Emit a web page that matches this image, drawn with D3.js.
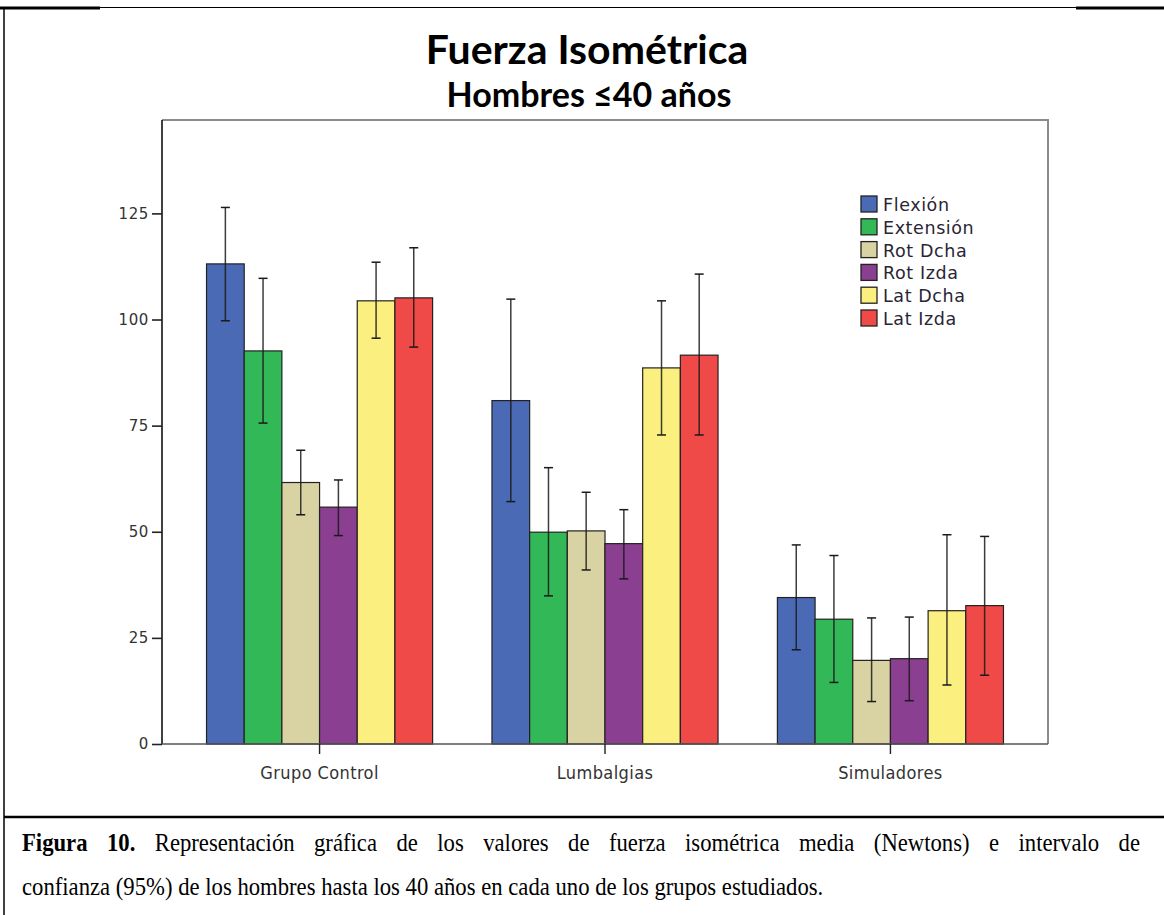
<!DOCTYPE html>
<html lang="es">
<head>
<meta charset="utf-8">
<title>Fuerza Isométrica – Hombres ≤40 años</title>
<script src="https://cdn.jsdelivr.net/npm/d3@7/dist/d3.min.js"></script>
<style>
  html, body { margin: 0; padding: 0; background: #fff; }
  svg { display: block; }
</style>
</head>
<body>
<svg id="chart" width="1164" height="915"></svg>
<script>
// Groups on the x axis and the six strength measures drawn inside each group
const groups = ["Grupo Control", "Lumbalgias", "Simuladores"];
const measures = ["Flexión", "Extensión", "Rot Dcha", "Rot Izda", "Lat Dcha", "Lat Izda"];

// Mean isometric force (N) per measure, one value per group
const flexion   = [113.1, 80.9, 34.5];
const extension = [92.6, 49.9, 29.4];
const rotDcha   = [61.6, 50.2, 19.7];
const rotIzda   = [55.8, 47.2, 20.1];
const latDcha   = [104.4, 88.6, 31.4];
const latIzda   = [105.1, 91.6, 32.6];

// 95% confidence interval limits, same order
const flexionLo   = [99.7, 57.1, 22.2];
const flexionHi   = [126.4, 104.8, 46.9];
const extensionLo = [75.6, 34.9, 14.5];
const extensionHi = [109.7, 65.1, 44.4];
const rotDchaLo   = [54.0, 41.0, 10.0];
const rotDchaHi   = [69.2, 59.3, 29.7];
const rotIzdaLo   = [49.1, 38.9, 10.2];
const rotIzdaHi   = [62.2, 55.2, 29.9];
const latDchaLo   = [95.6, 72.8, 13.9];
const latDchaHi   = [113.5, 104.4, 49.3];
const latIzdaLo   = [93.5, 72.8, 16.2];
const latIzdaHi   = [116.9, 110.7, 48.9];

const yTicks = [0, 25, 50, 75, 100, 125];
const yMax = 147;

const colors = ["#4a6ab6", "#33b858", "#d9d3a3", "#8a3f90", "#fbf07f", "#ef4a48"];

const means = [flexion, extension, rotDcha, rotIzda, latDcha, latIzda];
const lows  = [flexionLo, extensionLo, rotDchaLo, rotIzdaLo, latDchaLo, latIzdaLo];
const highs = [flexionHi, extensionHi, rotDchaHi, rotIzdaHi, latDchaHi, latIzdaHi];

const rows = [];
groups.forEach((g, gi) => {
  measures.forEach((m, mi) => {
    rows.push({ group: g, measure: m, mean: means[mi][gi], lo: lows[mi][gi], hi: highs[mi][gi], color: colors[mi] });
  });
});

const svg = d3.select("#chart");
const plot = { left: 162, right: 1048, top: 120, bottom: 744 };

const y = d3.scaleLinear().domain([0, yMax]).range([plot.bottom, plot.top]);
const x0 = d3.scaleBand().domain(groups).range([plot.left, plot.right])
  .paddingInner(0.208).paddingOuter(0.156);
const x1 = d3.scaleBand().domain(measures).range([0, x0.bandwidth()]).padding(0);

// Page frame: outer rule, left border and caption separator
const frame = svg.append("g");
frame.append("line").attr("x1", 100).attr("x2", 1076).attr("y1", 7.5).attr("y2", 7.5)
  .attr("stroke", "#000").attr("stroke-width", 1);
frame.append("line").attr("x1", 0).attr("x2", 100).attr("y1", 8).attr("y2", 8)
  .attr("stroke", "#000").attr("stroke-width", 3);
frame.append("line").attr("x1", 1076).attr("x2", 1164).attr("y1", 8).attr("y2", 8)
  .attr("stroke", "#000").attr("stroke-width", 3);
frame.append("line").attr("x1", 4).attr("x2", 4).attr("y1", 7).attr("y2", 915)
  .attr("stroke", "#000").attr("stroke-width", 1.5);
frame.append("line").attr("x1", 4).attr("x2", 1164).attr("y1", 817).attr("y2", 817)
  .attr("stroke", "#000").attr("stroke-width", 2.5);

// Titles
svg.append("text").attr("x", 587).attr("y", 64).attr("text-anchor", "middle")
  .attr("font-family", "Lato, 'Open Sans', sans-serif").attr("font-weight", 700)
  .attr("font-size", 41).attr("fill", "#000").text("Fuerza Isométrica");
svg.append("text").attr("x", 589).attr("y", 107).attr("text-anchor", "middle")
  .attr("font-family", "Lato, 'Open Sans', sans-serif").attr("font-weight", 700)
  .attr("font-size", 34).attr("fill", "#000").text("Hombres ≤40 años");

// Plot frame (grey) on top and right
svg.append("path")
  .attr("d", `M${plot.left},${plot.top}H${plot.right}V${plot.bottom}`)
  .attr("fill", "none").attr("stroke", "#8c8c8c").attr("stroke-width", 2);

// Bars
const barG = svg.append("g");
barG.selectAll("rect").data(rows).join("rect")
  .attr("x", d => x0(d.group) + x1(d.measure))
  .attr("y", d => y(d.mean))
  .attr("width", x1.bandwidth())
  .attr("height", d => y(0) - y(d.mean))
  .attr("fill", d => d.color)
  .attr("stroke", "#222").attr("stroke-width", 1.2);

// Confidence interval whiskers
const capHalf = 4.5;
const errG = svg.append("g").attr("stroke", "#1a1a1a").attr("stroke-width", 1.5);
rows.forEach(d => {
  const cx = x0(d.group) + x1(d.measure) + x1.bandwidth() / 2;
  errG.append("line").attr("x1", cx).attr("x2", cx).attr("y1", y(d.hi)).attr("y2", y(d.lo)).attr("stroke-opacity", 0.85);
  errG.append("line").attr("x1", cx - capHalf).attr("x2", cx + capHalf).attr("y1", y(d.hi)).attr("y2", y(d.hi));
  errG.append("line").attr("x1", cx - capHalf).attr("x2", cx + capHalf).attr("y1", y(d.lo)).attr("y2", y(d.lo));
});

// Y axis
const yAxis = d3.axisLeft(y).tickValues(yTicks).tickSize(10).tickPadding(3).tickFormat(d3.format("d"));
const yG = svg.append("g").attr("transform", `translate(${plot.left},0)`).call(yAxis);
yG.select(".domain").attr("d", `M0,${plot.top}V${plot.bottom}`).attr("stroke", "#111").attr("stroke-width", 1.6);
yG.selectAll(".tick line").attr("stroke", "#222").attr("stroke-width", 1.6);
yG.selectAll(".tick text").attr("font-family", "'DejaVu Sans', sans-serif").attr("font-size", 15)
  .attr("fill", "#333").attr("letter-spacing", 0.6);

// X axis
const xAxis = d3.axisBottom(x0).tickSize(10).tickPadding(12);
const xG = svg.append("g").attr("transform", `translate(0,${plot.bottom})`).call(xAxis);
xG.select(".domain").attr("d", `M${plot.left},0H${plot.right}`).attr("stroke", "#555").attr("stroke-width", 1.6);
xG.selectAll(".tick line").attr("stroke", "#222").attr("stroke-width", 1.4);
xG.selectAll(".tick text").attr("font-family", "'DejaVu Sans Condensed', 'DejaVu Sans', sans-serif")
  .attr("font-size", 18).attr("fill", "#333").attr("letter-spacing", 0.4);

// Legend
const legend = svg.append("g").attr("transform", "translate(861,196)");
const leg = legend.selectAll("g").data(measures).join("g")
  .attr("transform", (d, i) => `translate(0,${i * 22.8})`);
leg.append("rect").attr("width", 16).attr("height", 16)
  .attr("fill", (d, i) => colors[i]).attr("stroke", "#222").attr("stroke-width", 1.3);
leg.append("text").attr("x", 22).attr("y", 15)
  .attr("font-family", "'DejaVu Sans', sans-serif").attr("font-size", 17.5)
  .attr("fill", "#2a2535").attr("letter-spacing", 0.6).text(d => d);

// Caption: tall, narrow serif; first line justified to the right margin
const capScaleX = 0.89;
const capLeft = 22, capRight = 1140;
const cap = svg.append("g")
  .attr("transform", `translate(${capLeft},0) scale(${capScaleX},1)`)
  .attr("font-family", "'Liberation Serif', 'Times New Roman', serif")
  .attr("font-size", 25.5).attr("fill", "#000");
const line1Bold = "Figura 10.";
const line1Rest = " Representación gráfica de los valores de fuerza isométrica media (Newtons) e intervalo de";
const l1 = cap.append("text").attr("x", 0).attr("y", 851);
l1.append("tspan").attr("font-weight", 700).text(line1Bold);
l1.append("tspan").text(line1Rest);
const natural = l1.node().getComputedTextLength();
const gaps = (line1Bold + line1Rest).split(" ").length - 1;
const extra = ((capRight - capLeft) / capScaleX - natural) / gaps;
if (extra > 0) l1.attr("word-spacing", extra);
cap.append("text").attr("x", 0).attr("y", 895)
  .text("confianza (95%) de los hombres hasta los 40 años en cada uno de los grupos estudiados.");
</script>
</body>
</html>
